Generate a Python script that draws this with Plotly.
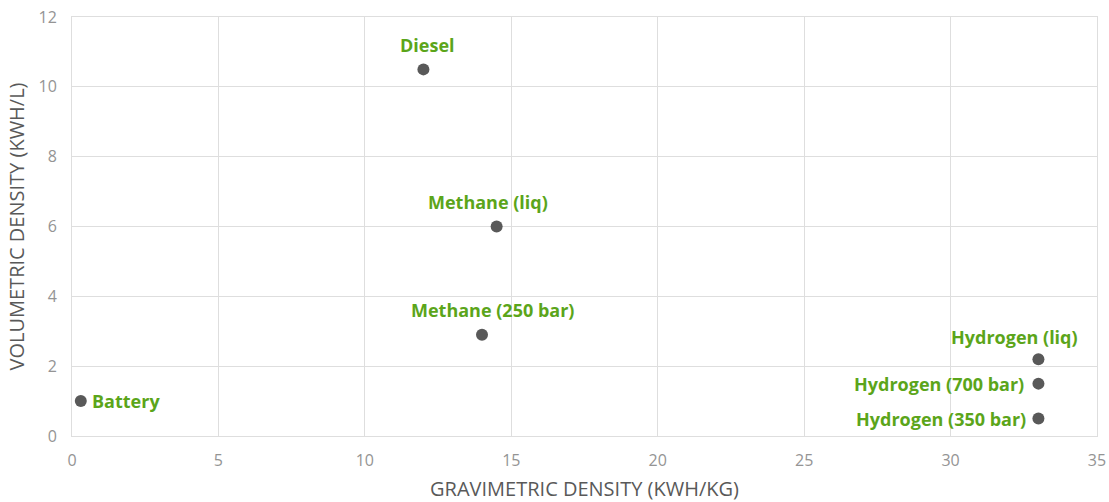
import plotly.graph_objects as go

fuels = ["Battery", "Diesel", "Methane (liq)", "Methane (250 bar)",
         "Hydrogen (liq)", "Hydrogen (700 bar)", "Hydrogen (350 bar)"]
gravimetric = [0.3, 12.0, 14.5, 14.0, 33.0, 33.0, 33.0]
volumetric = [1.0, 10.5, 6.0, 2.9, 2.2, 1.5, 0.5]

# label placement per point: (xanchor, yanchor, xshift, yshift)
label_pos = {
    "Battery": ("left", "middle", 9, 0),
    "Diesel": ("center", "bottom", 4, 10),
    "Methane (liq)": ("center", "bottom", -9, 11),
    "Methane (250 bar)": ("center", "bottom", 10, 11),
    "Hydrogen (liq)": ("center", "bottom", -24, 8),
    "Hydrogen (700 bar)": ("right", "middle", -12, 0),
    "Hydrogen (350 bar)": ("right", "middle", -10, 0),
}

green = "#5ba51a"
grid = "#dedede"

fig = go.Figure()
fig.add_trace(go.Scatter(
    x=gravimetric, y=volumetric, mode="markers",
    marker=dict(size=12, color="#595959"),
    hovertext=fuels, hoverinfo="text", showlegend=False,
))

for name, gx, vy in zip(fuels, gravimetric, volumetric):
    xa, ya, xs, ys = label_pos[name]
    fig.add_annotation(
        x=gx, y=vy, text=f"<b>{name}</b>", showarrow=False,
        xanchor=xa, yanchor=ya, xshift=xs, yshift=ys,
        font=dict(family="Open Sans", size=18, color=green),
    )

fig.update_xaxes(
    range=[0, 35], dtick=5, showgrid=True, gridcolor=grid, gridwidth=1,
    showline=True, linecolor=grid, linewidth=1, mirror=True, zeroline=False,
    ticks="", automargin=False, ticklabeloverflow="allow", ticklabelstandoff=10,
    tickfont=dict(family="Open Sans", size=16, color="#949494"),
    title=dict(text="GRAVIMETRIC DENSITY (KWH/KG)", standoff=12,
               font=dict(family="Open Sans", size=20, color="#595959")),
)
fig.update_yaxes(
    range=[0, 12], dtick=2, showgrid=True, gridcolor=grid, gridwidth=1,
    showline=True, linecolor=grid, linewidth=1, mirror=True, zeroline=False,
    ticks="", automargin=False, ticklabeloverflow="allow", ticklabelstandoff=11,
    tickfont=dict(family="Open Sans", size=16, color="#949494"),
    title=dict(text="VOLUMETRIC DENSITY (KWH/L)", standoff=8,
               font=dict(family="Open Sans", size=20, color="#595959")),
)
fig.update_layout(
    width=1109, height=502,
    margin=dict(l=72, r=12, t=17, b=66, autoexpand=False),
    plot_bgcolor="white", paper_bgcolor="white",
)
# drop the default body margin so the figure fills the window
fig.write_html("out.html", config={"displayModeBar": False},
               post_script="document.body.style.margin='0';")
